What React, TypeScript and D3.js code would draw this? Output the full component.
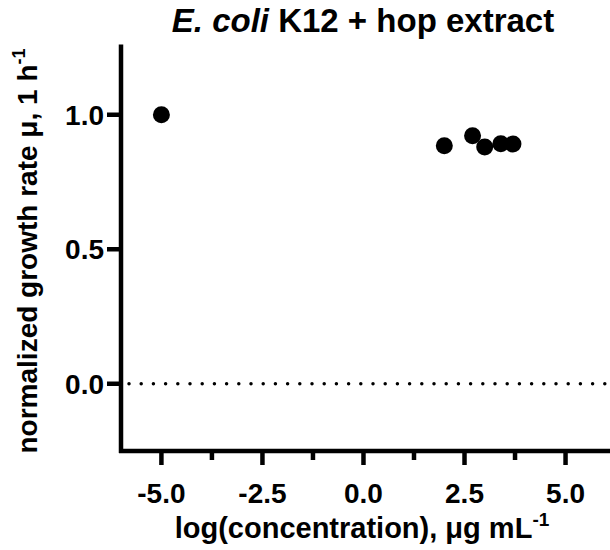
import React from "react";
import * as d3 from "d3";

const logConc = [-5, 2.0, 2.699, 3.0, 3.398, 3.699];
const growthRate = [1.0, 0.885, 0.922, 0.88, 0.892, 0.891];
const xMajorTicks = [-5, -2.5, 0, 2.5, 5];
const xMinorTicks = [-3.75, -1.25, 1.25, 3.75];
const yTicks = [0, 0.5, 1.0];

const W = 610;
const H = 550;
const FONT = "'Liberation Sans', Arial, sans-serif";

export default function App() {
  const x = d3.scaleLinear().domain([-6, 6.1]).range([121, 610]);
  const y = d3.scaleLinear().domain([-0.25, 1.25]).range([451, 47.5]);
  const x0 = x(-6);
  const yb = y(-0.25);
  const fmt = (v: number) => d3.format(".1f")(v).replace("\u2212", "-");
  return (
    <svg width={W} height={H} style={{ position: "absolute", left: 0, top: 0 }}>
      <rect width={W} height={H} fill="#fff" />
      <text x={363} y={32} textAnchor="middle" fontFamily={FONT} fontWeight="bold" fontSize={33}>
        <tspan fontStyle="italic">E. coli</tspan> K12 + hop extract
      </text>
      {/* dotted zero line */}
      <line x1={x0 + 8} x2={W} y1={y(0)} y2={y(0)} stroke="#000" strokeWidth={3.5} strokeDasharray="0 12.2" strokeLinecap="round" />
      {/* axes */}
      <line x1={x0} x2={x0} y1={y(1.25) - 3} y2={yb + 2} stroke="#000" strokeWidth={4.5} />
      <line x1={x0 - 2} x2={W} y1={yb} y2={yb} stroke="#000" strokeWidth={4.5} />
      {xMajorTicks.map((t) => (
        <g key={"xm" + t}>
          <line x1={x(t)} x2={x(t)} y1={yb} y2={yb + 14} stroke="#000" strokeWidth={4.5} />
          <text x={x(t)} y={503} textAnchor="middle" fontFamily={FONT} fontWeight="bold" fontSize={28}>
            {fmt(t)}
          </text>
        </g>
      ))}
      {xMinorTicks.map((t) => (
        <line key={"xn" + t} x1={x(t)} x2={x(t)} y1={yb} y2={yb + 9} stroke="#000" strokeWidth={4.5} />
      ))}
      {yTicks.map((t) => (
        <g key={"y" + t}>
          <line x1={x0 - 14} x2={x0} y1={y(t)} y2={y(t)} stroke="#000" strokeWidth={4.5} />
          <text x={x0 - 17} y={y(t)} dy="0.36em" textAnchor="end" fontFamily={FONT} fontWeight="bold" fontSize={28}>
            {fmt(t)}
          </text>
        </g>
      ))}
      {logConc.map((v, i) => (
        <circle key={"p" + i} cx={x(v)} cy={y(growthRate[i])} r={8.5} fill="#000" />
      ))}
      <text x={362} y={538} textAnchor="middle" fontFamily={FONT} fontWeight="bold" fontSize={29}>
        log(concentration), μg mL<tspan dy={-12} fontSize={19}>-1</tspan>
      </text>
      <text
        transform={`translate(37, 251) rotate(-90)`}
        textAnchor="middle"
        fontFamily={FONT}
        fontWeight="bold"
        fontSize={28}
      >
        normalized growth rate μ, 1 h<tspan dy={-12} fontSize={18}>-1</tspan>
      </text>
    </svg>
  );
}
